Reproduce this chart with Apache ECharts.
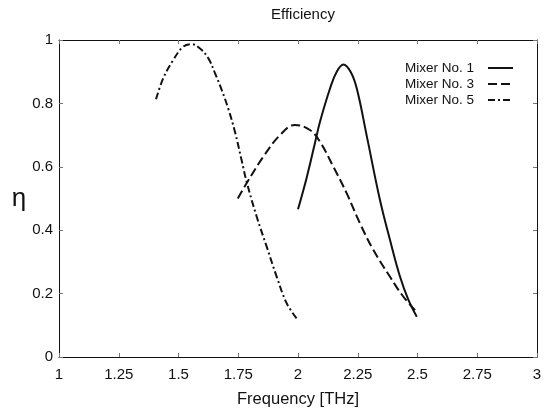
<!DOCTYPE html>
<html>
<head>
<meta charset="utf-8">
<script src="https://cdn.jsdelivr.net/npm/echarts@6/dist/echarts.min.js"></script>
<style>
  html, body { margin: 0; padding: 0; background: #fff; }
  #chart { width: 546px; height: 409px; }
</style>
</head>
<body>
<div id="chart"></div>
<script>
/** efficiency curves */
const mixer1 = [
  [2.0, 0.466], [2.036, 0.565], [2.071, 0.675], [2.092, 0.742], [2.134, 0.847],
  [2.162, 0.9], [2.19, 0.923], [2.22, 0.9], [2.246, 0.847], [2.287, 0.7],
  [2.343, 0.495], [2.385, 0.369], [2.427, 0.253], [2.462, 0.18], [2.497, 0.127],
];
const mixer3 = [
  [1.748, 0.5], [1.785, 0.548], [1.855, 0.632], [1.925, 0.7], [1.987, 0.732],
  [2.05, 0.716], [2.092, 0.679], [2.148, 0.6], [2.204, 0.516], [2.259, 0.422],
  [2.315, 0.338], [2.385, 0.253], [2.441, 0.19], [2.49, 0.148],
];
const mixer5 = [
  [1.406, 0.813], [1.436, 0.879], [1.478, 0.937], [1.52, 0.979], [1.555, 0.987],
  [1.59, 0.973], [1.625, 0.942], [1.653, 0.895], [1.681, 0.842], [1.708, 0.784],
  [1.736, 0.711], [1.764, 0.621], [1.785, 0.553], [1.827, 0.443], [1.869, 0.348],
  [1.911, 0.253], [1.953, 0.169], [1.994, 0.122],
];
const seriesNames = ["Mixer No. 1", "Mixer No. 3", "Mixer No. 5"];
const dashTypes = ["solid", [9, 4], [7, 3, 2, 3]];

const font = "'Liberation Sans', Arial, sans-serif";

const chart = echarts.init(document.getElementById("chart"), null, { renderer: "canvas" });

const tickStyle = { show: true, inside: true, length: 4, lineStyle: { color: "#777" } };
const lineStyleAxis = { show: true, onZero: false, lineStyle: { color: "#111", width: 1 } };

const option = {
  animation: false,
  backgroundColor: "#fff",
  title: {
    text: "Efficiency",
    left: 298,
    textAlign: "center",
    top: 2,
    textStyle: { fontFamily: font, fontSize: 15, fontWeight: "normal", color: "#111" },
  },
  grid: {
    left: 59,
    right: 9,
    top: 40,
    bottom: 52,
    containLabel: false,
    outerBoundsMode: "none",
  },
  legend: {
    orient: "vertical",
    right: 27,
    top: 56,
    align: "right",
    itemWidth: 25,
    itemHeight: 14,
    itemGap: 2,
    itemStyle: { color: "transparent", borderWidth: 0 },
    textStyle: { fontFamily: font, fontSize: 13.5, color: "#111", padding: [0, 9, 0, 0] },
    data: seriesNames,
  },
  xAxis: [
    {
      type: "value",
      min: 1,
      max: 3,
      interval: 0.25,
      position: "bottom",
      axisLine: lineStyleAxis,
      axisTick: tickStyle,
      splitLine: { show: false },
      axisLabel: { fontFamily: font, fontSize: 15, color: "#111", margin: 10 },
      name: "Frequency [THz]",
      nameLocation: "middle",
      nameGap: 34,
      nameTextStyle: { fontFamily: font, fontSize: 16.5, color: "#111" },
    },
    {
      type: "value",
      min: 1,
      max: 3,
      interval: 0.25,
      position: "top",
      axisLine: lineStyleAxis,
      axisTick: tickStyle,
      axisLabel: { show: false },
      splitLine: { show: false },
    },
  ],
  yAxis: [
    {
      type: "value",
      min: 0,
      max: 1,
      interval: 0.2,
      position: "left",
      axisLine: lineStyleAxis,
      axisTick: tickStyle,
      splitLine: { show: false },
      axisLabel: { fontFamily: font, fontSize: 15, color: "#111", margin: 6 },
      name: "η",
      nameLocation: "middle",
      nameRotate: 0,
      nameGap: 32,
      nameTextStyle: { fontFamily: font, fontSize: 26, color: "#111" },
    },
    {
      type: "value",
      min: 0,
      max: 1,
      interval: 0.2,
      position: "right",
      axisLine: lineStyleAxis,
      axisTick: tickStyle,
      axisLabel: { show: false },
      splitLine: { show: false },
    },
  ],
  series: [mixer1, mixer3, mixer5].map((data, i) => ({
    name: seriesNames[i],
    type: "line",
    data,
    smooth: 0.4,
    symbol: "none",
    lineStyle: { color: "#111", width: 2, type: dashTypes[i] },
    itemStyle: { color: "#111" },
  })),
};

chart.setOption(option);
</script>
</body>
</html>
